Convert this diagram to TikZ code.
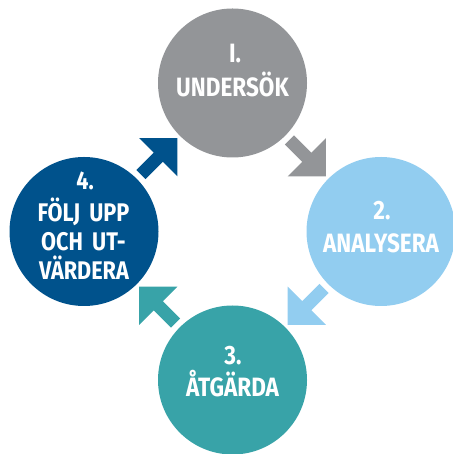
\documentclass[tikz,border=0pt]{standalone}
\usepackage{fontspec}
\newfontfamily\condfont[FakeStretch=0.85]{Fira Sans}
\usetikzlibrary{calc}
\definecolor{cgray}{HTML}{939598}
\definecolor{clight}{HTML}{92CDF0}
\definecolor{cteal}{HTML}{38A3A8}
\definecolor{cdark}{HTML}{00528C}
\newcommand\blockarrow[4]{%
  \fill[#4, shift={($(#1)!0.5!(#2)$)}, rotate=#3]
    (-24.5,-6.5) -- (0,-6.5) -- (0,-27) -- (27,0) -- (0,27) -- (0,6.5) -- (-24.5,6.5) -- cycle;}
\begin{document}
\begin{tikzpicture}[x=1pt,y=1pt,
  stage/.style={circle, minimum size=149pt, inner sep=0pt, draw=none},
  lbl/.style={text=white, anchor=base, inner sep=0pt, font=\condfont\bfseries\fontsize{26.5}{30}\selectfont},
  lbls/.style={lbl, font=\condfont\bfseries\fontsize{25.5}{28}\selectfont}]
\useasboundingbox (0,0) rectangle (452,454);
\node[stage, fill=cgray]  (s1) at (232.5,371) {};
\node[stage, fill=clight] (s2) at (381,222.5) {};
\node[stage, fill=cteal]  (s3) at (232.5,74) {};
\node[stage, fill=cdark]  (s4) at (84,222.5) {};
\blockarrow{s1}{s2}{-45}{cgray}
\blockarrow{s2}{s3}{-135}{clight}
\blockarrow{s3}{s4}{135}{cteal}
\blockarrow{s4}{s1}{45}{cdark}
\node[lbl] (t1a) at (235,391) {I.};
\node[lbl] (t1b) at (232.5,357.5) {UNDERSÖK};
\node[lbl] (t2a) at (382,234) {2.};
\node[lbl] (t2b) at (381,201) {ANALYSERA};
\node[lbl] (t3a) at (233,89.5) {3.};
\node[lbl] (t3b) at (232.5,57) {ÅTGÄRDA};
\node[lbls] (t4a) at (85,264) {4.};
\node[lbls] (t4b) at (83.5,232) {FÖLJ\hspace{4pt} UPP};
\node[lbls] (t4c) at (83.5,203.5) {OCH\hspace{4pt} UT-};
\node[lbls] (t4d) at (84,174.5) {VÄRDERA};
\end{tikzpicture}
\end{document}
